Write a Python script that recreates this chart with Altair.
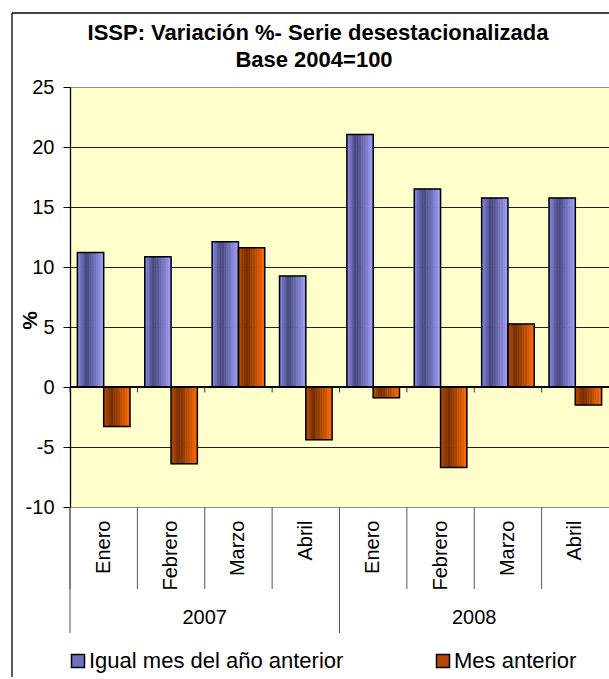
import altair as alt
import pandas as pd

# ---- data ----
months = ["Enero", "Febrero", "Marzo", "Abril", "Enero", "Febrero", "Marzo", "Abril"]
years = ["2007", "2007", "2007", "2007", "2008", "2008", "2008", "2008"]
igual_mes = [11.2, 10.85, 12.1, 9.25, 21.05, 16.5, 15.75, 15.75]
mes_anterior = [-3.3, -6.4, 11.6, -4.4, -0.9, -6.7, 5.25, -1.5]
series_names = ["Igual mes del año anterior", "Mes anterior"]
y_ticks = [-10, -5, 0, 5, 10, 15, 20, 25]
title_lines = ["ISSP: Variación %- Serie desestacionalizada", "Base 2004=100"]

keys = [f"{y}|{m}" for y, m in zip(years, months)]
rows = []
for k, y, m, a, b in zip(keys, years, months, igual_mes, mes_anterior):
    rows.append({"key": k, "year": y, "month": m, "series": series_names[0], "value": a})
    rows.append({"key": k, "year": y, "month": m, "series": series_names[1], "value": b})
df = pd.DataFrame(rows)
cats = pd.DataFrame({"key": keys, "year": years, "month": months})
titles = pd.DataFrame({"line": title_lines, "order": [0, 1]})

FONT = "Liberation Sans"
W, H = 539, 420

# ---- gradient look, emulated with thin vertical stripes (odd count) ----
N = 11
MID = N // 2
OUTER = 0.2815 * N          # empty space each side, in stripe widths
K_PAD = int(OUTER)
PO = OUTER - K_PAD
STRIPE_W = (W / len(keys)) / (2 * N + 2 * K_PAD + 2 * PO)
BAR_W = STRIPE_W * N
grad_stops = {
    series_names[0]: [(0.0, "#8C8CF0"), (0.35, "#45457A"), (1.0, "#A0A0FF")],
    series_names[1]: [(0.0, "#C04C00"), (0.3, "#722C00"), (1.0, "#FF6A00")],
}


def _interp(stops, t):
    for (o0, c0), (o1, c1) in zip(stops[:-1], stops[1:]):
        if o0 <= t <= o1:
            f = (t - o0) / (o1 - o0)
            a = [int(c0[i:i + 2], 16) for i in (1, 3, 5)]
            b = [int(c1[i:i + 2], 16) for i in (1, 3, 5)]
            return "#" + "".join(f"{round(x + (y - x) * f):02x}" for x, y in zip(a, b))
    return stops[-1][1]


sub_domain, sub_range = [], []
for i in range(K_PAD):
    sub_domain.append(f"padL{i}")
    sub_range.append("#000000")
for si, s in enumerate(series_names):
    for i in range(N):
        sub_domain.append(f"s{si}_{i:02d}")
        sub_range.append(_interp(grad_stops[s], (i + 0.5) / N))
for i in range(K_PAD):
    sub_domain.append(f"padR{i}")
    sub_range.append("#000000")

stripe_rows = []
for r in rows:
    si = series_names.index(r["series"])
    for i in range(N):
        stripe_rows.append({**r, "sub": f"s{si}_{i:02d}"})
stripes = pd.DataFrame(stripe_rows)
df["sub"] = [f"s{series_names.index(s)}_{MID:02d}" for s in df["series"]]

xoff_scale = alt.Scale(domain=sub_domain, paddingOuter=PO, paddingInner=0)

xenc = alt.X("key:N", sort=keys, scale=alt.Scale(paddingInner=0, paddingOuter=0),
             axis=alt.Axis(title=None, labelExpr="split(datum.label, '|')[1]",
                           labelAngle=270, labelAlign="right", labelBaseline="middle",
                           labelPadding=13, labelFontSize=20, labelFont=FONT,
                           labelColor="black", ticks=False, domain=False))
yenc = alt.Y("value:Q", scale=alt.Scale(domain=[-10, 25], nice=False, zero=False),
             axis=alt.Axis(values=y_ticks, title="%", titleFont=FONT, titleFontSize=21,
                           titleFontWeight="bold", titleColor="black", titleAngle=270,
                           titleX=-40, titleY=233, titleAlign="center",
                           titleBaseline="middle",
                           labelExpr="datum.value + ''",
                           labelFont=FONT, labelFontSize=20, labelColor="black",
                           labelPadding=9, tickSize=7, tickColor="black",
                           domainColor="black", domainWidth=1.3,
                           grid=True, gridWidth=1,
                           gridColor={"condition": {"test": "datum.value == 25 || datum.value == -10",
                                                    "value": "#909090"},
                                      "value": "#202020"}))

stripe_bars = alt.Chart(stripes).mark_rect(strokeWidth=0.6).encode(
    x=xenc,
    xOffset=alt.XOffset("sub:N", scale=xoff_scale),
    y=yenc, y2=alt.datum(0),
    fill=alt.Fill("sub:N", scale=alt.Scale(domain=sub_domain, range=sub_range), legend=None),
    stroke=alt.Stroke("sub:N", scale=alt.Scale(domain=sub_domain, range=sub_range), legend=None),
)

legend_pts = alt.Chart(df).mark_point(shape="square", filled=True, size=0, opacity=1).encode(
    x=alt.X("key:N", sort=keys), xOffset=alt.XOffset("sub:N", scale=xoff_scale),
    y=alt.Y("value:Q"),
    color=alt.Color("series:N", sort=series_names,
                    scale=alt.Scale(domain=series_names, range=["#6F6FC4", "#B44800"]),
                    legend=alt.Legend(title=None, orient="none", legendX=-3, legendY=563,
                                      direction="horizontal", symbolType="square",
                                      symbolSize=169, symbolStrokeColor="black",
                                      symbolStrokeWidth=1.5, symbolOpacity=1,
                                      labelFont=FONT,
                                      labelFontSize=22, labelColor="black",
                                      labelOffset=0, columnPadding=88,
                                      labelLimit=400)),
)

outline_bars = alt.Chart(df).mark_bar(
    width=BAR_W, fillOpacity=0, stroke="black", strokeWidth=1.5).encode(
    x=alt.X("key:N", sort=keys), xOffset=alt.XOffset("sub:N", scale=xoff_scale),
    y=alt.Y("value:Q"), y2=alt.datum(0))

zero_rule = alt.Chart(cats).mark_rule(color="black", strokeWidth=1.3).encode(
    y=alt.datum(0), x=alt.value(0), x2=alt.value(W))

zero_ticks = alt.Chart(cats).mark_rule(color="#333333", strokeWidth=1).encode(
    x=alt.X("key:N", sort=keys, bandPosition=0), y=alt.datum(0), y2=alt.datum(-0.45))

month_sep = alt.Chart(cats).mark_rule(color="#555555", strokeWidth=1).encode(
    x=alt.X("key:N", sort=keys, bandPosition=0), y=alt.value(H), y2=alt.value(H + 82))

year_sep = alt.Chart(cats).transform_filter(alt.datum.month == "Enero").mark_rule(
    color="#555555", strokeWidth=1).encode(
    x=alt.X("key:N", sort=keys, bandPosition=0), y=alt.value(H), y2=alt.value(H + 126))

year_text = alt.Chart(cats).transform_filter(alt.datum.month == "Marzo").mark_text(
    font=FONT, fontSize=20, color="black", baseline="middle").encode(
    x=alt.X("key:N", sort=keys, bandPosition=0), y=alt.value(H + 111), text="year:N")

title_1 = alt.Chart(titles).transform_filter(alt.datum.order == 0).mark_text(
    font=FONT, fontSize=22, fontWeight="bold", color="black", baseline="alphabetic",
    align="center").encode(x=alt.value(248), y=alt.value(-47), text="line:N")
title_2 = alt.Chart(titles).transform_filter(alt.datum.order == 1).mark_text(
    font=FONT, fontSize=22, fontWeight="bold", color="black", baseline="alphabetic",
    align="center").encode(x=alt.value(244), y=alt.value(-20), text="line:N")

one = pd.DataFrame({"k": [1]})
border_v = alt.Chart(one).mark_rule(color="black", strokeWidth=1.3).encode(
    x=alt.value(-58), y=alt.value(-74), y2=alt.value(620))
border_h = alt.Chart(one).mark_rule(color="black", strokeWidth=1.3).encode(
    y=alt.value(-74), x=alt.value(-58), x2=alt.value(W + 20))

chart = alt.layer(
    stripe_bars, legend_pts, outline_bars, zero_rule, zero_ticks, month_sep, year_sep,
    year_text, title_1, title_2, border_v, border_h
).properties(
    width=W, height=H,
    autosize=alt.AutoSizeParams(type="none"),
    padding={"left": 70, "top": 87, "right": 0, "bottom": 170},
    background="white",
).configure_view(
    fill="#FFFFCC", stroke="#909090", strokeWidth=1
)

chart.save("out.html", embed_options={"renderer": "svg", "actions": False})
